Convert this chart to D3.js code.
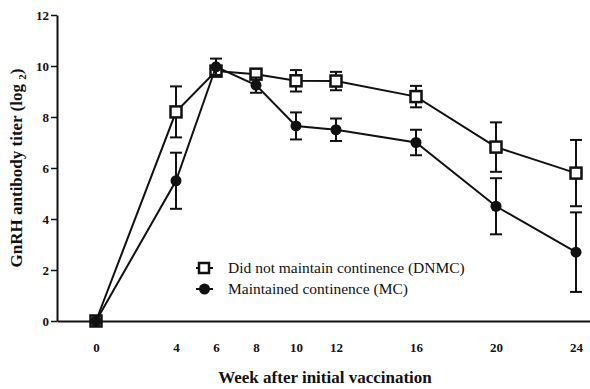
<!DOCTYPE html>
<html>
<head>
<meta charset="utf-8">
<script src="https://cdn.jsdelivr.net/npm/d3@7"></script>
<style>
  body { margin: 0; background: #fff; }
</style>
</head>
<body>
<div id="chart"></div>
<script>
const width = 590;
const height = 389;
const serif = "'Liberation Serif', 'DejaVu Serif', serif";

// data
const weeks = [0, 4, 6, 8, 10, 12, 16, 20, 24];
const dnmcMean = [0, 8.2, 9.8, 9.68, 9.42, 9.41, 8.8, 6.82, 5.8];
const dnmcErr = [0, 1.0, 0.2, 0.15, 0.42, 0.36, 0.42, 0.97, 1.3];
const mcMean = [0, 5.5, 9.97, 9.25, 7.65, 7.5, 7.0, 4.5, 2.7];
const mcErr = [0, 1.1, 0.32, 0.3, 0.53, 0.44, 0.5, 1.1, 1.56];
const yTicks = [0, 2, 4, 6, 8, 10, 12];

const x = d3.scaleLinear().domain([-1.95, 24.7]).range([57, 590]);
const y = d3.scaleLinear().domain([0, 12]).range([321, 15]);

const svg = d3.select("#chart").append("svg")
  .attr("width", width)
  .attr("height", height)
  .attr("font-family", serif);

// axes
const yAxis = svg.append("g")
  .attr("transform", "translate(57,0)")
  .call(d3.axisLeft(y).tickValues(yTicks).tickSize(6).tickPadding(2).tickSizeOuter(0))
  .attr("font-family", serif);
yAxis.select(".domain").attr("stroke", "#111").attr("stroke-width", 2);
yAxis.selectAll(".tick line").attr("stroke", "#111").attr("stroke-width", 1.5);
yAxis.selectAll(".tick text")
  .attr("font-size", 13).attr("font-weight", "bold").attr("fill", "#111")
  .attr("font-family", serif);

const xAxis = svg.append("g")
  .attr("transform", "translate(0,321)")
  .call(d3.axisBottom(x).tickValues(weeks).tickSize(0).tickPadding(22).tickSizeOuter(0))
  .attr("font-family", serif);
xAxis.select(".domain").attr("stroke", "#111").attr("stroke-width", 2);
xAxis.selectAll(".tick text")
  .attr("font-size", 13).attr("font-weight", "bold").attr("fill", "#111")
  .attr("font-family", serif);

// axis titles
svg.append("text")
  .attr("x", 325).attr("y", 383)
  .attr("text-anchor", "middle")
  .attr("font-size", 17).attr("font-weight", "bold").attr("fill", "#111")
  .text("Week after initial vaccination");

const yTitle = svg.append("text")
  .attr("transform", "translate(22,168) rotate(-90)")
  .attr("text-anchor", "middle")
  .attr("font-size", 17).attr("font-weight", "bold").attr("fill", "#111");
yTitle.append("tspan").text("GnRH antibody titer (log ");
yTitle.append("tspan").attr("font-size", 11).attr("dy", 4).text("2");
yTitle.append("tspan").attr("dy", -4).text(")");

function series(mean, err, kind) {
  const pts = weeks.map((w, i) => ({ w: w, m: mean[i], e: err[i] }));
  const g = svg.append("g");
  const line = d3.line().x(d => x(d.w)).y(d => y(d.m));
  g.append("path").datum(pts)
    .attr("d", line).attr("fill", "none")
    .attr("stroke", "#111").attr("stroke-width", 2);

  const eb = g.selectAll(".eb").data(pts.filter(d => d.e > 0)).join("g");
  eb.append("line")
    .attr("x1", d => x(d.w)).attr("x2", d => x(d.w))
    .attr("y1", d => y(d.m + d.e)).attr("y2", d => y(d.m - d.e))
    .attr("stroke", "#111").attr("stroke-width", 2);
  [1, -1].forEach(s => {
    eb.append("line")
      .attr("x1", d => x(d.w) - 6).attr("x2", d => x(d.w) + 6)
      .attr("y1", d => y(d.m + s * d.e)).attr("y2", d => y(d.m + s * d.e))
      .attr("stroke", "#111").attr("stroke-width", 2);
  });

  if (kind === "square") {
    g.selectAll("rect").data(pts).join("rect")
      .attr("x", d => x(d.w) - 5.5).attr("y", d => y(d.m) - 5.5)
      .attr("width", 11).attr("height", 11)
      .attr("fill", "#fff").attr("stroke", "#111").attr("stroke-width", 2.5);
  } else {
    g.selectAll("circle").data(pts).join("circle")
      .attr("cx", d => x(d.w)).attr("cy", d => y(d.m))
      .attr("r", 5.5).attr("fill", "#111");
  }
}

series(dnmcMean, dnmcErr, "square");
series(mcMean, mcErr, "circle");

// legend
const legend = svg.append("g");
legend.append("line").attr("x1", 196).attr("x2", 213).attr("y1", 268).attr("y2", 268)
  .attr("stroke", "#111").attr("stroke-width", 2);
legend.append("rect").attr("x", 199).attr("y", 263).attr("width", 10).attr("height", 10)
  .attr("fill", "#fff").attr("stroke", "#111").attr("stroke-width", 2.5);
legend.append("text").attr("x", 228).attr("y", 273)
  .attr("font-size", 15.5).attr("fill", "#111")
  .text("Did not maintain continence (DNMC)");
legend.append("line").attr("x1", 196).attr("x2", 213).attr("y1", 289).attr("y2", 289)
  .attr("stroke", "#111").attr("stroke-width", 2);
legend.append("circle").attr("cx", 204.5).attr("cy", 289).attr("r", 5.5).attr("fill", "#111");
legend.append("text").attr("x", 228).attr("y", 294)
  .attr("font-size", 15.5).attr("fill", "#111")
  .text("Maintained continence (MC)");
</script>
</body>
</html>
